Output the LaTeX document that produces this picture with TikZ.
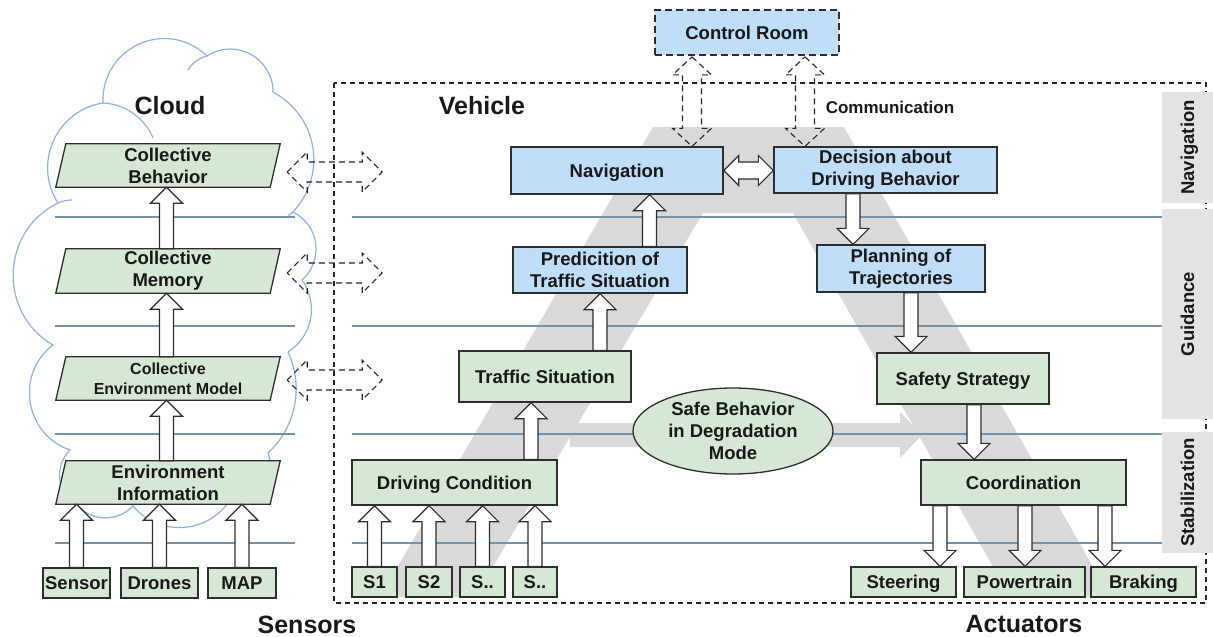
\documentclass[tikz,border=0pt]{standalone}
\usepackage{fontspec}
\setmainfont{Liberation Sans}
\usetikzlibrary{calc,shapes.geometric}
\definecolor{gfill}{HTML}{D5E8D4}
\definecolor{bfill}{HTML}{BEDEFA}
\definecolor{bandc}{HTML}{D9D9D9}
\definecolor{sidec}{HTML}{E3E3E3}
\definecolor{hlinec}{HTML}{7293AD}
\definecolor{cloudc}{HTML}{8DB3E6}
\definecolor{edgec}{HTML}{2E2E2E}
\pgfdeclarelayer{back}
\pgfdeclarelayer{mid}
\pgfsetlayers{back,mid,main}
\tikzset{
  txt/.style={align=center, font=\bfseries\fontsize{18.5}{22}\selectfont, text=black!90},
  box/.style={txt, draw=edgec, line width=1.3pt, inner sep=2pt},
  oneline/.style={text height=13.8pt, text depth=0.8pt},
  gbox/.style={box, fill=gfill},
  bbox/.style={box, fill=bfill},
  ptext/.style={txt, inner sep=0pt, minimum width=224pt, minimum height=43pt},
  pshape/.style={draw=edgec, line width=1.3pt, fill=gfill},
  hollow/.style={draw=edgec, line width=1.2pt, fill=white, line join=miter},
  dashar/.style={draw=black!85, line width=1.1pt, dash pattern=on 6pt off 4pt},
  layline/.style={draw=hlinec, line width=1.2pt},
  sidebox/.style={txt, fill=sidec, rotate=90, minimum height=51pt, inner sep=0pt},
  biglbl/.style={font=\bfseries\fontsize{25}{30}\selectfont, text=black!90},
  cloudline/.style={draw=cloudc, line width=1.2pt},
}
% vertical hollow arrows: x from first point, tip at y of second point
\newcommand\arrUp[2]{\path[hollow] let \p1=#1, \p2=#2 in
  (\x1-7pt,\y1) -- (\x1-7pt,\y2-16pt) -- (\x1-16pt,\y2-16pt) -- (\x1,\y2) --
  (\x1+16pt,\y2-16pt) -- (\x1+7pt,\y2-16pt) -- (\x1+7pt,\y1) -- cycle;}
\newcommand\arrDown[2]{\path[hollow] let \p1=#1, \p2=#2 in
  (\x1-7pt,\y1) -- (\x1-7pt,\y2+16pt) -- (\x1-16pt,\y2+16pt) -- (\x1,\y2) --
  (\x1+16pt,\y2+16pt) -- (\x1+7pt,\y2+16pt) -- (\x1+7pt,\y1) -- cycle;}
% vertical dashed double arrow
\newcommand\arrUD[2]{\path[dashar] let \p1=#1, \p2=#2 in
  (\x1,\y1) -- (\x1+19.5pt,\y1-18pt) -- (\x1+9.5pt,\y1-18pt) -- (\x1+9.5pt,\y2+18pt) --
  (\x1+19.5pt,\y2+18pt) -- (\x1,\y2) -- (\x1-19.5pt,\y2+18pt) -- (\x1-9.5pt,\y2+18pt) --
  (\x1-9.5pt,\y1-18pt) -- (\x1-19.5pt,\y1-18pt) -- cycle;}
% horizontal double arrow: [style]{p1}{p2}{shaft half}{head half}{head length}
\newcommand\arrLR[6][hollow]{\path[#1] let \p1=#2, \p2=#3 in
  (\x1,\y1) -- (\x1+#6,\y1+#5) -- (\x1+#6,\y1+#4) -- (\x2-#6,\y1+#4) -- (\x2-#6,\y1+#5) --
  (\x2,\y1) -- (\x2-#6,\y1-#5) -- (\x2-#6,\y1-#4) -- (\x1+#6,\y1-#4) -- (\x1+#6,\y1-#5) -- cycle;}
% a round cloud lobe from #1 to #2 (clockwise), tangent angle #3, control factor #4
\newcommand\lobe[4]{.. controls ($(#1)!#4!#3:(#2)$) and ($(#2)!#4!-#3:(#1)$) .. (#2)}

\begin{document}
\begin{tikzpicture}[x=1pt,y=-1pt]
\useasboundingbox (0,0) rectangle (1213,637);

% ---------------- background: cloud, gray band, layer lines
\begin{pgfonlayer}{back}
\coordinate (j0) at (58,203);
\coordinate (j1) at (103,103);
\coordinate (j2) at (207,56);
\coordinate (j3) at (273,92);
\coordinate (j4) at (293,212);
\coordinate (j5) at (302,280);
\coordinate (j6) at (288,352);
\coordinate (j7) at (268,453);
\coordinate (j8) at (228,503);
\coordinate (j9) at (133,506);
\coordinate (j10) at (78,506);
\coordinate (j11) at (70,450);
\coordinate (j12) at (53,345);
\filldraw[cloudline, fill=white] (j0)
  \lobe{j0}{j1}{57}{0.43}
  \lobe{j1}{j2}{68}{0.49}
  \lobe{j2}{j3}{62}{0.45}
  \lobe{j3}{j4}{52}{0.42}
  \lobe{j4}{j5}{56}{0.43}
  \lobe{j5}{j6}{46}{0.40}
  \lobe{j6}{j7}{36}{0.37}
  \lobe{j7}{j8}{60}{0.44}
  \lobe{j8}{j9}{52}{0.41}
  \lobe{j9}{j10}{46}{0.40}
  \lobe{j10}{j11}{53}{0.42}
  \lobe{j11}{j12}{62}{0.45}
  \lobe{j12}{j0}{62}{0.45}
  -- cycle;
% inner arc fragments of the cloud
\draw[cloudline] (j1) .. controls (125,104) and (145,118) .. (153,138);
\draw[cloudline] (188,70) .. controls (192,63) and (199,58) .. (j2);
\draw[cloudline] (j0) .. controls (62,201) and (67,200) .. (72,200);
\draw[cloudline] (j4) .. controls (290,214) and (288,216) .. (287,218);

% gray "A" band
\fill[bandc] (380,597) -- (653,127) -- (844,127) -- (1110,597) -- (1010,597)
  -- (793,213) -- (703,213) -- (475,597) -- cycle;
% gray horizontal arrow
\fill[bandc] (570,423) -- (900,423) -- (900,412) -- (922,435) -- (900,458)
  -- (900,447) -- (570,447) -- cycle;

% layer lines
\foreach \yy in {217,326,434,543}{
  \draw[layline] (55,\yy) -- (295,\yy);
  \draw[layline] (352,\yy) -- (1162,\yy);
}
\end{pgfonlayer}

% vehicle border
\draw[black!85, line width=1.2pt, dash pattern=on 5pt off 4pt] (334,83) rectangle (1206,603);

% side labels
\node[sidebox, oneline, minimum width=111pt] (sNav) at (1187.5,147.5) {Navigation};
\node[sidebox, oneline, minimum width=210pt] (sGui) at (1187.5,314) {Guidance};
\node[sidebox, oneline, minimum width=121pt] (sSta) at (1187.5,492.5) {Stabilization};

% titles
\node[biglbl] (lCloud) at (170,106) {Cloud};
\node[biglbl] (lVeh) at (482,106) {Vehicle};
\node[biglbl] (lSen) at (307,625) {Sensors};
\node[biglbl] (lAct) at (1024,624) {Actuators};
\node[font=\bfseries\fontsize{17}{20}\selectfont, text=black!90] (lCom) at (890,107) {Communication};

% ---------------- cloud column
\node[ptext] (cb) at (168,165.5) {Collective\\Behavior};
\node[ptext, minimum height=44pt] (cm) at (168,271) {Collective\\Memory};
\node[ptext, font=\bfseries\fontsize{16}{20}\selectfont] (cem) at (168,378.5) {Collective\\Environment Model};
\node[ptext] (ei) at (168,482.5) {Environment\\Information};
\begin{pgfonlayer}{mid}
\foreach \n in {cb,cm,cem,ei}{
  \path[pshape] ($(\n.north west)+(10,0)$) -- (\n.north east) -- ($(\n.south east)+(-10,0)$) -- (\n.south west) -- cycle;
}
\end{pgfonlayer}

\node[gbox, oneline, minimum width=67pt, minimum height=30pt] (sen) at (76.5,583) {Sensor};
\node[gbox, oneline, minimum width=77pt, minimum height=30pt] (dro) at (159.5,583) {Drones};
\node[gbox, oneline, minimum width=68pt, minimum height=30pt] (map) at (242,583) {MAP};

\arrUp{(sen.north)}{(ei.south)}
\arrUp{(dro.north)}{(ei.south)}
\arrUp{(map.north)}{(ei.south)}
\arrUp{([xshift=-1.5pt]ei.north)}{(cem.south)}
\arrUp{([xshift=-1.5pt]cem.north)}{(cm.south)}
\arrUp{([xshift=-1.5pt]cm.north)}{(cb.south)}

% cloud <-> vehicle dashed arrows
\arrLR[dashar]{([xshift=7pt,yshift=-6.5pt]cb.east)}{([xshift=102pt,yshift=-6.5pt]cb.east)}{10pt}{20pt}{20pt}
\arrLR[dashar]{([xshift=7pt,yshift=-2pt]cm.east)}{([xshift=102pt,yshift=-2pt]cm.east)}{10pt}{20pt}{20pt}
\arrLR[dashar]{([xshift=7pt,yshift=-1.5pt]cem.east)}{([xshift=102pt,yshift=-1.5pt]cem.east)}{10pt}{20pt}{20pt}

% ---------------- vehicle
\node[bbox, oneline, minimum width=184pt, minimum height=45pt, line width=1.8pt, dash pattern=on 7pt off 4pt] (cr) at (747,32.5) {Control Room};
\node[bbox, oneline, minimum width=212pt, minimum height=47pt] (nav) at (617,170.5) {Navigation};
\node[bbox, minimum width=223pt, minimum height=46pt] (dec) at (885.5,170) {Decision about\\Driving Behavior};
\node[bbox, minimum width=174pt, minimum height=46pt] (pred) at (600,270) {Predicition of\\Traffic Situation};
\node[bbox, minimum width=168pt, minimum height=47pt] (plan) at (901,268.5) {Planning of\\Trajectories};
\node[gbox, oneline, minimum width=172pt, minimum height=51pt] (ts) at (545,376.5) {Traffic Situation};
\node[gbox, oneline, minimum width=172pt, minimum height=51pt] (ss) at (963,378.5) {Safety Strategy};
\node[gbox, oneline, minimum width=205pt, minimum height=45pt] (dc) at (454.5,482.5) {Driving Condition};
\node[gbox, oneline, minimum width=205pt, minimum height=45pt] (co) at (1023.5,482.5) {Coordination};
\node[ellipse, draw=edgec, line width=1.3pt, fill=gfill, minimum width=200pt, minimum height=86pt, inner sep=0pt] (sbd) at (733,431) {};
\node[txt] (sbdt) at (sbd.center) {Safe Behavior\\in Degradation\\Mode};

\node[gbox, oneline, minimum width=45pt, minimum height=30pt] (s1) at (374.5,582) {S1};
\node[gbox, oneline, minimum width=46pt, minimum height=30pt] (s2) at (429,582) {S2};
\node[gbox, oneline, minimum width=45pt, minimum height=30pt] (s3) at (482.5,582) {S..};
\node[gbox, oneline, minimum width=44pt, minimum height=30pt] (s4) at (535,582) {S..};

\node[gbox, oneline, minimum width=105pt, minimum height=30pt] (st) at (903.5,582) {Steering};
\node[gbox, oneline, minimum width=121pt, minimum height=30pt] (pt) at (1024.5,582) {Powertrain};
\node[gbox, oneline, minimum width=105pt, minimum height=30pt] (br) at (1143.5,582) {Braking};

% vehicle arrows
\arrUp{(s1.north)}{(dc.south)}
\arrUp{(s2.north)}{(dc.south)}
\arrUp{(s3.north)}{(dc.south)}
\arrUp{(s4.north)}{(dc.south)}
\arrUp{([xshift=76.5pt]dc.north)}{(ts.south)}
\arrUp{([xshift=55pt]ts.north)}{(pred.south)}
\arrUp{([xshift=49.5pt]pred.north)}{(nav.south)}
\arrLR{(nav.east)}{(dec.west)}{8.5pt}{15pt}{15pt}
\arrDown{([xshift=-32.5pt]dec.south)}{(plan.north)}
\arrDown{([xshift=10pt]plan.south)}{(ss.north)}
\arrDown{([xshift=11pt]ss.south)}{(co.north)}
\arrDown{([xshift=-83.5pt]co.south)}{(st.north)}
\arrDown{([xshift=1.5pt]co.south)}{(pt.north)}
\arrDown{([xshift=81.5pt]co.south)}{(br.north)}

% control room communication
\arrUD{([xshift=-55pt,yshift=-1pt]cr.south)}{(nav.north)}
\arrUD{([xshift=58pt,yshift=-1pt]cr.south)}{(dec.north)}
\end{tikzpicture}
\end{document}
